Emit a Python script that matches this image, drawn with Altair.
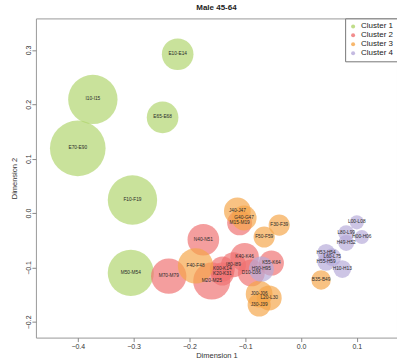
import altair as alt
import pandas as pd

# Diagnosis groups placed on the first two dimensions, grouped into four clusters
codes = [
    "E10-E14", "I10-I15", "E65-E68", "E70-E90", "F10-F19", "M50-M54",
    "M70-M79", "N40-N51", "K40-K46", "I80-I89", "K00-K14", "K20-K31",
    "M20-M25", "D10-D36", "K55-K64", "M15-M19",
    "J40-J47", "G40-G47", "F30-F39", "F50-F59", "F40-F48", "J00-J06",
    "L20-L30", "J30-J39", "B35-B49",
    "H90-H95", "L00-L08", "L80-L99", "H00-H06", "H49-H52", "H53-H54",
    "L60-L75", "H55-H59", "H10-H13",
]
dim1 = [
    -0.221, -0.373, -0.248, -0.400, -0.302, -0.305,
    -0.237, -0.175, -0.101, -0.121, -0.141, -0.141,
    -0.160, -0.089, -0.053, -0.110,
    -0.114, -0.102, -0.039, -0.066, -0.189, -0.075,
    -0.057, -0.075, 0.036,
    -0.071, 0.100, 0.081, 0.109, 0.081, 0.045,
    0.056, 0.045, 0.074,
]
dim2 = [
    0.292, 0.209, 0.176, 0.119, 0.024, -0.110,
    -0.116, -0.049, -0.081, -0.095, -0.103, -0.112,
    -0.125, -0.110, -0.092, -0.018,
    0.004, -0.009, -0.022, -0.044, -0.097, -0.149,
    -0.156, -0.169, -0.123,
    -0.103, -0.017, -0.037, -0.044, -0.055, -0.073,
    -0.081, -0.090, -0.103,
]
prevalence = [
    3.2, 7.8, 3.2, 9.9, 7.8, 6.8,
    4.0, 3.2, 2.6, 2.0, 2.0, 1.7,
    4.4, 2.3, 2.0, 2.0,
    2.3, 2.0, 1.44, 1.44, 4.0, 2.3,
    2.0, 1.7, 1.21,
    2.0, 0.64, 0.81, 0.64, 0.81, 1.0,
    1.0, 1.0, 1.0,
]
cluster = (["Cluster 1"] * 6 + ["Cluster 2"] * 10 + ["Cluster 3"] * 9
           + ["Cluster 4"] * 9)

cluster_names = ["Cluster 1", "Cluster 2", "Cluster 3", "Cluster 4"]
cluster_colors = ["#b0d46c", "#ef7070", "#f5a548", "#b5a9d9"]

df = pd.DataFrame({
    "code": codes, "dim1": dim1, "dim2": dim2,
    "prevalence": prevalence, "cluster": cluster,
})

font = "Liberation Sans"

x_enc = alt.X("dim1:Q", title="Dimension 1",
              scale=alt.Scale(domain=[-0.475, 0.172], nice=False, zero=False),
              axis=alt.Axis(values=[-0.4, -0.3, -0.2, -0.1, 0.0, 0.1],
                            format=".1f", grid=False, domain=False,
                            tickSize=4, tickColor="#888", labelPadding=1,
                            labelFontSize=7, labelColor="#333", labelFont=font,
                            titleFontSize=7.5, titleFontWeight="normal",
                            titleColor="#333", titleFont=font, titlePadding=2))
y_enc = alt.Y("dim2:Q", title="Dimension 2",
              scale=alt.Scale(domain=[-0.229, 0.358], nice=False, zero=False),
              axis=alt.Axis(values=[-0.2, -0.1, 0.0, 0.1, 0.2, 0.3],
                            format=".1f", grid=False, domain=False,
                            tickSize=4, tickColor="#888", labelPadding=0,
                            labelAngle=270, labelFontSize=7, labelColor="#333",
                            labelFont=font, titleFontSize=7.5,
                            titleFontWeight="normal", titleColor="#333",
                            titleFont=font, titlePadding=6))

bubbles = alt.Chart(df).mark_circle(opacity=0.68, stroke=None).encode(
    x=x_enc,
    y=y_enc,
    size=alt.Size("prevalence:Q",
                  scale=alt.Scale(domain=[0, 10], range=[0, 3141.6], zero=True),
                  legend=None),
    color=alt.Color("cluster:N",
                    scale=alt.Scale(domain=cluster_names, range=cluster_colors),
                    legend=alt.Legend(title=None, orient="none", legendX=310,
                                      legendY=0, symbolType="circle",
                                      symbolSize=16, symbolOpacity=0.8,
                                      labelFontSize=8, labelFont=font,
                                      labelColor="#222", labelOffset=4,
                                      rowPadding=1, padding=4,
                                      strokeColor="#777", fillColor="white")),
)

labels = alt.Chart(df).mark_text(fontSize=4.8, color="#2a2a2a", font=font).encode(
    x="dim1:Q",
    y="dim2:Q",
    text="code:N",
)

chart = alt.layer(bubbles, labels).properties(
    width=362,
    height=320,
    title=alt.TitleParams("Male 45-64", fontSize=8, fontWeight="bold",
                          font=font, color="#222", anchor="middle", offset=6),
    autosize="none",
    padding={"left": 36, "top": 18, "right": 0, "bottom": 26},
).configure_view(stroke="#999", strokeWidth=1)

chart.save("out.html", embed_options={"renderer": "svg", "actions": False})
